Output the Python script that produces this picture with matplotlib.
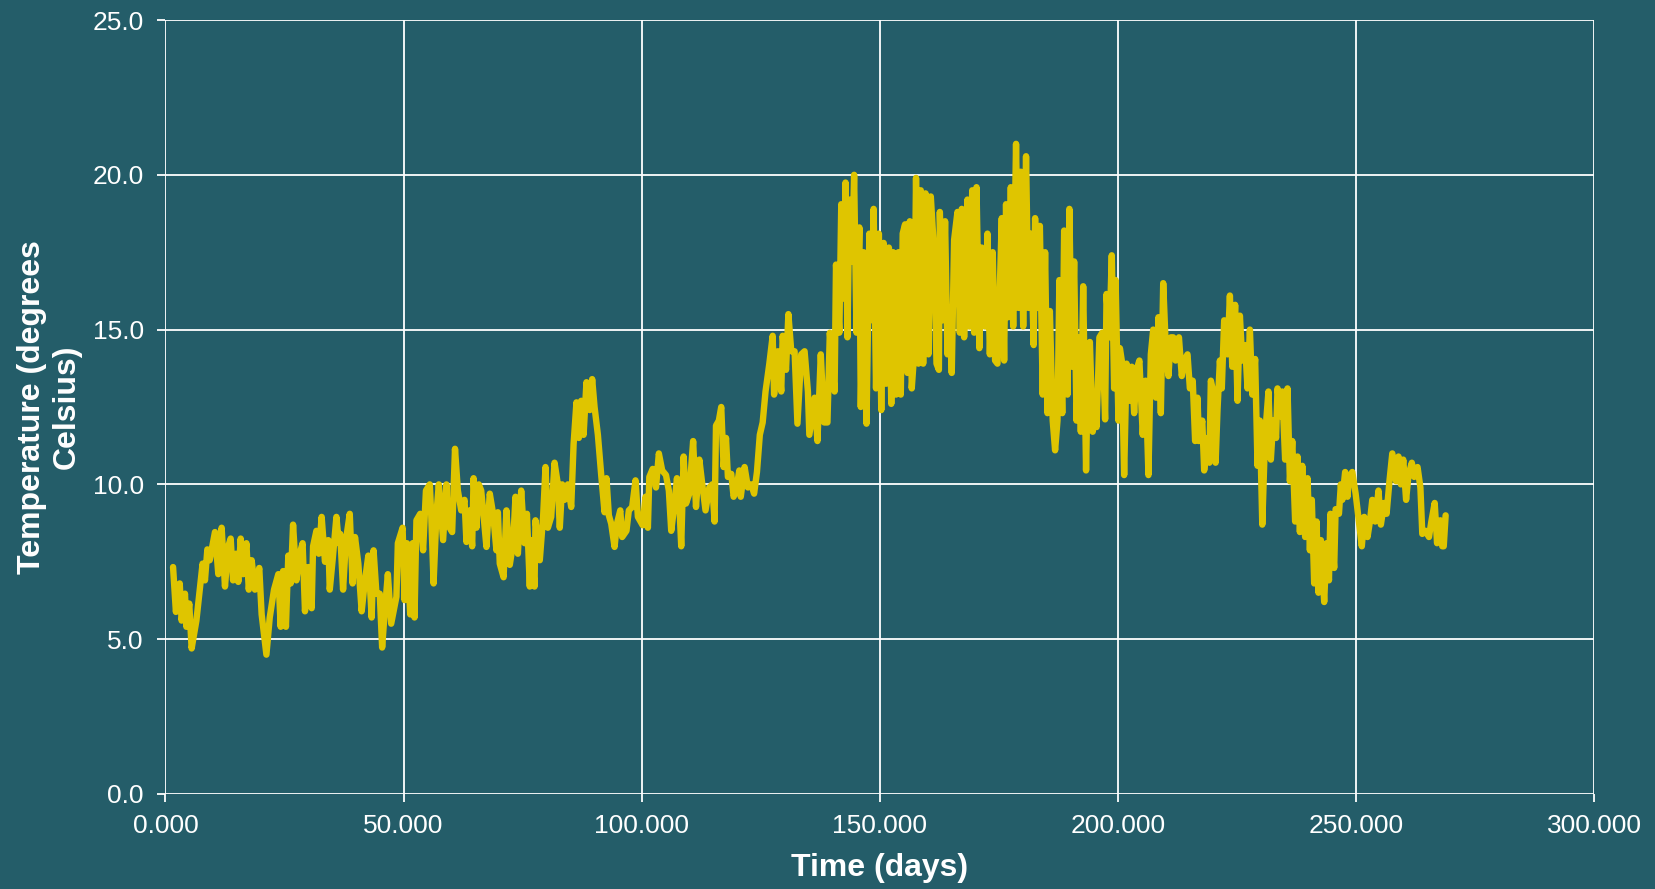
import matplotlib
matplotlib.use("Agg")
import matplotlib.pyplot as plt
from matplotlib.ticker import FormatStrFormatter

plt.rcParams['font.family'] = ['Liberation Sans', 'DejaVu Sans']

# (day, temperature), split by season
winter = [(1.6, 7.33), (2.2, 5.88), (3.0, 6.8), (3.4, 5.6), (4.1, 6.47), (4.4, 5.4), (5.0, 6.15),
          (5.5, 4.7), (6.5, 5.6), (7.2, 6.6), (7.8, 7.44), (8.3, 6.9), (8.8, 7.9), (9.3, 7.55),
          (10.4, 8.46), (11.1, 7.1), (11.8, 8.6), (12.5, 6.7), (13.2, 8.0), (13.7, 8.25), (14.2, 6.9),
          (14.8, 7.76), (15.3, 6.85), (15.8, 8.25), (16.3, 7.1), (17.0, 8.1), (17.5, 6.6), (18.1, 7.55),
          (18.8, 6.6), (19.7, 7.3), (20.2, 5.8), (21.2, 4.5), (21.9, 5.7), (22.8, 6.6), (23.7, 7.1),
          (24.2, 5.4), (24.7, 7.2), (25.3, 5.4), (25.8, 7.7), (26.3, 6.8), (26.8, 8.7), (27.5, 6.9),
          (28.2, 7.76), (28.8, 8.1), (29.3, 5.9), (30.0, 7.33), (30.7, 6.0), (31.0, 8.0), (31.7, 8.5),
          (32.2, 7.76), (32.8, 8.95), (33.5, 7.5), (34.2, 8.2), (34.5, 6.6), (35.1, 7.55), (35.9, 8.95),
          (36.4, 8.1), (36.7, 8.4), (37.3, 6.6), (37.9, 8.2), (38.7, 9.05), (39.3, 6.8), (39.8, 8.3),
          (40.5, 7.44), (41.2, 5.9), (41.9, 6.9), (42.6, 7.7), (43.3, 5.7), (43.7, 7.87), (44.3, 6.47),
          (45.0, 6.47), (45.5, 4.73), (46.0, 5.8), (46.7, 7.1), (47.4, 5.5), (48.5, 6.37), (48.8, 8.1),
          (49.8, 8.6), (50.2, 6.26), (50.7, 8.1), (51.4, 5.8), (51.9, 8.1), (52.3, 5.7), (52.7, 8.84),
          (53.5, 9.05), (54.1, 7.87), (54.7, 9.8), (55.5, 10.0), (55.8, 9.05), (56.3, 6.8), (56.9, 9.05),
          (57.4, 10.0), (58.3, 8.2), (59.0, 10.0)]

spring = [(59.3, 8.7), (60.2, 8.46), (60.8, 11.15), (61.4, 9.8), (62.1, 9.16), (62.8, 9.5), (63.2, 8.14),
          (63.9, 9.16), (64.4, 8.0), (64.7, 10.2), (65.3, 8.6), (65.8, 10.0), (66.3, 9.8), (66.7, 9.16),
          (67.4, 7.98), (68.1, 9.7), (68.8, 9.05), (69.5, 7.87), (69.8, 9.1), (70.2, 7.44), (71.0, 7.0),
          (71.6, 9.16), (72.3, 7.4), (73.0, 8.1), (73.5, 9.6), (74.0, 7.76), (74.7, 9.8), (75.4, 8.1),
          (75.9, 9.05), (76.5, 6.7), (76.8, 8.2), (77.5, 6.7), (77.7, 8.84), (78.6, 7.55), (79.3, 8.95),
          (79.8, 10.56), (80.3, 8.6), (81.0, 8.95), (81.7, 10.7), (82.4, 10.0), (82.8, 8.6), (83.3, 10.0),
          (83.8, 9.5), (84.5, 10.0), (85.2, 9.27), (85.7, 11.3), (86.3, 12.65), (86.8, 11.5), (87.3, 12.7),
          (87.8, 11.6), (88.4, 13.3), (89.1, 12.4), (89.6, 13.4), (90.1, 12.5), (90.8, 11.6), (91.5, 10.3),
          (92.2, 9.1), (92.6, 10.2), (93.1, 9.0), (93.6, 8.73), (94.3, 7.98), (94.8, 8.73), (95.5, 9.16),
          (95.9, 8.3), (96.8, 8.5), (97.3, 9.16), (98.0, 9.27), (98.7, 10.13), (99.2, 8.95), (100.2, 8.68),
          (100.8, 9.6), (101.3, 8.6), (101.6, 10.24), (102.3, 10.5), (103.0, 9.9), (103.6, 11.0),
          (104.3, 10.45), (105.1, 10.3), (105.7, 9.8), (106.2, 8.5), (106.9, 9.38), (107.4, 10.2),
          (107.9, 9.38), (108.3, 8.0), (108.8, 10.9), (109.3, 9.38), (110.0, 9.7), (110.8, 11.4),
          (111.4, 9.27), (112.1, 10.8), (112.8, 9.9), (113.4, 9.16), (114.2, 9.9), (114.8, 10.0),
          (115.3, 8.8), (115.6, 11.9), (116.2, 12.06), (116.7, 12.5), (117.2, 10.56), (117.7, 11.5),
          (118.1, 10.24), (118.8, 10.34), (119.3, 9.6), (119.8, 9.8), (120.5, 10.45), (120.8, 9.6),
          (121.6, 10.56), (122.3, 9.9)]

summer = [(123.0, 10.0), (123.6, 9.7), (124.2, 10.4), (124.8, 11.6), (125.4, 12.0), (126.0, 13.0),
          (126.8, 13.9), (127.5, 14.8), (127.8, 12.9), (128.6, 14.3), (129.3, 13.0), (129.6, 14.8),
          (130.3, 13.7), (130.8, 15.5), (131.4, 14.3), (132.1, 14.3), (132.7, 11.96), (133.5, 14.2),
          (134.2, 14.3), (134.9, 13.0), (135.2, 11.6), (136.3, 12.8), (136.9, 11.4), (137.6, 14.2),
          (138.3, 12.0), (139.0, 12.0), (139.5, 14.9), (140.5, 13.0), (140.8, 17.1), (141.5, 14.9),
          (141.9, 19.05), (142.5, 16.0), (142.8, 19.75), (143.2, 14.75), (143.6, 19.2), (144.2, 17.2),
          (144.6, 20.0), (145.1, 14.9), (145.7, 18.3), (146.0, 12.5), (146.6, 17.5), (147.2, 11.96),
          (147.8, 18.1), (148.4, 15.3), (148.7, 18.9), (149.2, 13.1), (149.8, 18.1), (150.3, 12.4),
          (150.8, 17.8), (151.3, 13.25), (151.9, 17.65), (152.4, 12.6), (152.8, 17.5), (153.4, 12.9),
          (153.9, 17.5), (154.4, 12.9), (154.8, 18.1), (155.3, 18.4), (155.8, 13.6), (156.3, 18.5),
          (156.7, 13.1), (157.2, 14.2), (157.6, 19.9), (158.1, 13.9), (158.6, 19.5), (159.1, 13.9),
          (159.6, 19.4), (160.2, 14.2), (160.7, 19.3), (161.4, 17.5), (161.9, 13.9), (162.4, 13.7),
          (162.6, 18.8), (163.2, 15.3), (163.7, 18.5), (164.2, 14.2), (164.7, 15.7), (165.1, 13.6),
          (165.6, 17.9), (166.3, 18.8), (166.8, 14.9), (167.2, 18.9), (167.7, 14.75), (168.4, 19.2),
          (168.8, 15.1), (169.4, 19.5), (169.8, 14.9), (170.3, 19.6), (170.9, 14.4), (171.4, 17.65),
          (172.1, 15.1), (172.6, 18.1), (173.1, 14.2), (173.7, 17.5), (174.2, 14.0), (174.7, 13.9),
          (175.1, 15.8), (175.6, 18.6), (176.1, 14.0), (176.5, 19.05), (177.0, 15.4), (177.5, 19.6),
          (178.0, 15.1)]

autumn = [(178.6, 21.0), (179.1, 15.7), (179.6, 20.1), (180.1, 15.1), (180.7, 20.6), (181.2, 15.7),
          (181.7, 18.1), (182.3, 14.5), (182.6, 18.6), (183.1, 15.7), (183.6, 18.35), (184.2, 12.9),
          (184.7, 17.5), (185.2, 12.3), (185.7, 15.6), (186.3, 12.06), (186.8, 11.1), (187.3, 12.06),
          (187.7, 16.6), (188.3, 12.3), (188.7, 18.2), (189.4, 12.9), (189.8, 18.9), (190.3, 13.8),
          (190.8, 17.2), (191.3, 12.06), (191.9, 14.75), (192.2, 11.7), (192.7, 16.4), (193.3, 10.45),
          (193.6, 13.0), (194.1, 14.6), (194.7, 11.7), (195.2, 12.9), (195.5, 11.85), (196.1, 14.75),
          (196.7, 14.9), (197.3, 12.1), (197.6, 16.15), (198.2, 14.75), (198.7, 17.4), (199.2, 13.1),
          (199.5, 16.6), (200.1, 12.06), (200.4, 14.4), (200.8, 14.0), (201.3, 10.3), (201.8, 13.9),
          (202.4, 12.7), (202.9, 13.8), (203.4, 12.3), (203.9, 13.7), (204.5, 14.0), (205.2, 11.6),
          (205.8, 13.35), (206.4, 10.3), (206.9, 14.2), (207.4, 15.0), (208.0, 12.8), (208.5, 15.4),
          (209.0, 12.3), (209.5, 16.5), (210.1, 14.2), (210.6, 13.5), (211.1, 14.75), (211.6, 14.75),
          (212.1, 14.0), (212.8, 14.75), (213.4, 13.5), (213.9, 14.0), (214.6, 14.2), (215.1, 13.1),
          (215.7, 13.35), (216.2, 11.4), (216.7, 12.8), (217.0, 11.4), (217.7, 12.06), (218.1, 10.45),
          (218.8, 11.5), (219.2, 10.7), (219.5, 13.35), (220.0, 13.0), (220.5, 10.7), (220.9, 12.4),
          (221.4, 14.0), (221.8, 13.1), (222.3, 15.3), (223.0, 14.2), (223.5, 16.1), (224.0, 13.8),
          (224.6, 15.8), (225.1, 12.7), (225.6, 15.45), (226.1, 14.0), (226.7, 14.5), (227.2, 13.1),
          (227.7, 15.0), (228.2, 12.9), (228.8, 14.05), (229.3, 10.6), (229.8, 12.06), (230.3, 8.7),
          (230.9, 11.6), (231.6, 13.0), (232.1, 10.8), (232.6, 12.06), (233.2, 11.5), (233.5, 13.1),
          (234.2, 12.2), (234.5, 13.0), (235.1, 10.8), (235.6, 13.1), (236.1, 10.1), (236.6, 11.4),
          (237.2, 8.8), (237.7, 10.9), (238.2, 8.46), (238.7, 10.6), (239.3, 8.3), (239.8, 10.2),
          (240.3, 7.87), (240.7, 9.5), (241.2, 6.8), (241.7, 8.8), (242.1, 6.5), (242.6, 8.2),
          (243.3, 6.2), (243.8, 8.1), (244.3, 6.9), (244.6, 9.05), (245.4, 7.3), (245.7, 9.2),
          (246.4, 9.05), (246.8, 10.0), (247.1, 9.5), (247.7, 10.4), (248.2, 9.6), (248.5, 10.24),
          (249.2, 10.4), (249.9, 9.7), (250.6, 8.8), (251.2, 8.0), (251.7, 8.95), (252.4, 8.3),
          (252.9, 8.8), (253.4, 9.5), (254.0, 8.8), (254.7, 9.8), (255.2, 8.7), (255.9, 9.4),
          (256.4, 9.05), (257.0, 10.1), (257.6, 11.0), (258.4, 10.1), (258.9, 10.9), (259.4, 10.0),
          (259.9, 10.8), (260.5, 9.5), (261.0, 10.3), (261.7, 10.7), (262.2, 10.24), (262.9, 10.56),
          (263.5, 9.9), (263.9, 8.4), (264.6, 8.5), (265.3, 8.3), (265.8, 8.8), (266.5, 9.4),
          (267.0, 8.1), (267.7, 8.84), (268.1, 8.0), (268.4, 8.0), (268.8, 9.0)]

x_ticks = [0, 50, 100, 150, 200, 250, 300]
y_ticks = [0, 5, 10, 15, 20, 25]

bg = '#245d69'
series = winter + spring + summer + autumn
days = [p[0] for p in series]
temps = [p[1] for p in series]

fig = plt.figure(figsize=(16.56, 8.89), dpi=100, facecolor=bg)
ax = fig.add_axes([0.0999, 0.1069, 0.8628, 0.8706])
ax.set_facecolor(bg)

ax.plot(days, temps, color='#dfc500', lw=4.6, solid_joinstyle='round', solid_capstyle='round', zorder=3)

ax.set_xlim(0, 300)
ax.set_ylim(0, 25)
ax.set_xticks(x_ticks)
ax.set_yticks(y_ticks)
ax.xaxis.set_major_formatter(FormatStrFormatter('%.3f'))
ax.yaxis.set_major_formatter(FormatStrFormatter('%.1f'))
ax.grid(True, color='white', lw=1.3)
ax.set_axisbelow(True)
for s in ax.spines.values():
    s.set_visible(False)
ax.tick_params(axis='both', colors='white', labelcolor='white', labelsize=19,
               length=5.5, width=1.3, direction='out')
ax.tick_params(axis='x', pad=9)
ax.tick_params(axis='y', pad=10)

ax.set_xlabel('Time (days)', color='white', fontsize=23, fontweight='bold', labelpad=11)
ax.set_ylabel('Temperature (degrees\nCelsius)', color='white', fontsize=23, fontweight='bold',
              labelpad=8)

fig.savefig('out.png', dpi=100, facecolor=bg)
